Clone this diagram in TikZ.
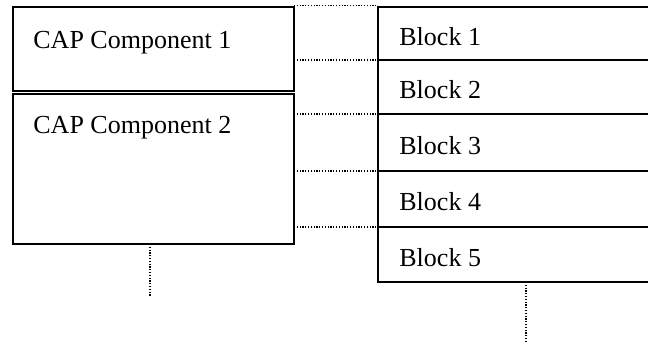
\documentclass[tikz,border=0pt]{standalone}
\usepackage{fontspec}
\setmainfont{Liberation Serif}
\begin{document}
\begin{tikzpicture}[x=0.5pt,y=-0.5pt,
  box/.style={draw,line width=0.7pt,rectangle,inner sep=0pt,outer sep=0pt},
  capbox/.style={box,minimum width=140.5pt},
  blk/.style={box,minimum width=137pt},
  txt/.style={anchor=base west,inner sep=0pt,font=\fontsize{13}{15}\selectfont},
  dot/.style={dash pattern=on 0.6pt off 0.8pt,line width=0.65pt}]
\useasboundingbox (0,0) rectangle (648,345);
% left boxes
\node[capbox,minimum height=42pt] (c1) at (153.5,49) {};
\node[capbox,minimum height=75pt] (c2) at (153.5,169) {};
% right blocks
\node[blk,minimum height=26.5pt] (b1) at (515,33.5) {};
\node[blk,minimum height=27pt] (b2) at (515,87) {};
\node[blk,minimum height=28.5pt] (b3) at (515,142.5) {};
\node[blk,minimum height=28pt] (b4) at (515,199) {};
\node[blk,minimum height=27.5pt] (b5) at (515,254.5) {};
% texts
\node[txt] (t1) at (33,48) {CAP Component 1};
\node[txt] (t2) at (33,133) {CAP Component 2};
\node[txt] (tb1) at (399,45) {Block 1};
\node[txt] (tb2) at (399,98) {Block 2};
\node[txt] (tb3) at (399,154) {Block 3};
\node[txt] (tb4) at (399,210) {Block 4};
\node[txt] (tb5) at (399,266) {Block 5};
% dotted connectors
\draw[dot] ([yshift=0.75pt]c1.north east) -- ([yshift=0.75pt]b1.north west);
\draw[dot] (b1.south west -| c1.east) -- (b1.south west);
\draw[dot] (b2.south west -| c2.east) -- (b2.south west);
\draw[dot] (b3.south west -| c2.east) -- (b3.south west);
\draw[dot] (b4.south west -| c2.east) -- (b4.south west);
\coordinate (e1) at (150,297);
\coordinate (e2) at (526,343);
\draw[dot] (c2.south -| e1) -- (e1);
\draw[dot] (b5.south -| e2) -- (e2);
\end{tikzpicture}
\end{document}
